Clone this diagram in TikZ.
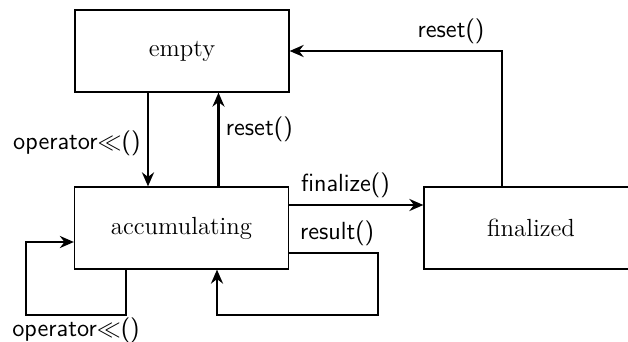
\documentclass[tikz,border=0pt,12pt]{standalone}
\usepackage{tikz}
\usetikzlibrary{arrows.meta}

\begin{document}
\begin{tikzpicture}[x=0.5pt,y=-0.5pt,
  state/.style={draw, line width=0.6pt, minimum width=107pt, minimum height=41pt, inner sep=0pt, font=\fontsize{12.4}{15}\selectfont},
  edge/.style={line width=1.4pt, -{Stealth[length=7pt,width=6pt]}},
  lbl/.style={font=\fontsize{12.4}{15}\sffamily, inner sep=3pt}]

\useasboundingbox (0,0) rectangle (628,342);

\node[state] (v0) at (182,51) {empty};
\node[state] (v1) at (181.5,228) {accumulating};
\node[state] (v2) at (531,228) {finalized};

\node[coordinate] (v3) at (378,315) {};
\node[coordinate] (v4) at (26,315) {};

\draw [edge] ([xshift=-17pt]v0.south) -- ([xshift=-17pt]v0.south |- v1.north) node[lbl, midway, left, yshift=-2pt] {operator$\ll$()};
\draw [edge] ([xshift=18.5pt]v1.north) -- ([xshift=18.5pt]v1.north |- v0.south) node[lbl, midway, right, yshift=5pt] {reset()};

\draw [edge] ([yshift=11.5pt]v1.east) -- ([yshift=11.5pt]v1.east -| v2.west) node[lbl, pos=0.42, above] {finalize()};
\draw [edge] ([xshift=-14.5pt]v2.north) |- (v0.east) node[lbl, pos=0.62, above] {reset()};

\draw [edge] ([yshift=-12.5pt]v1.east) -| (v3) node[lbl, pos=0.27, above] {result()} -| ([xshift=17.75pt]v1.south);
\draw [edge] ([xshift=-27.75pt]v1.south) |- (v4) node[lbl, pos=0.75, below, inner sep=0.8pt] {operator$\ll$()} |- ([yshift=-7pt]v1.west);

\end{tikzpicture}
\end{document}
